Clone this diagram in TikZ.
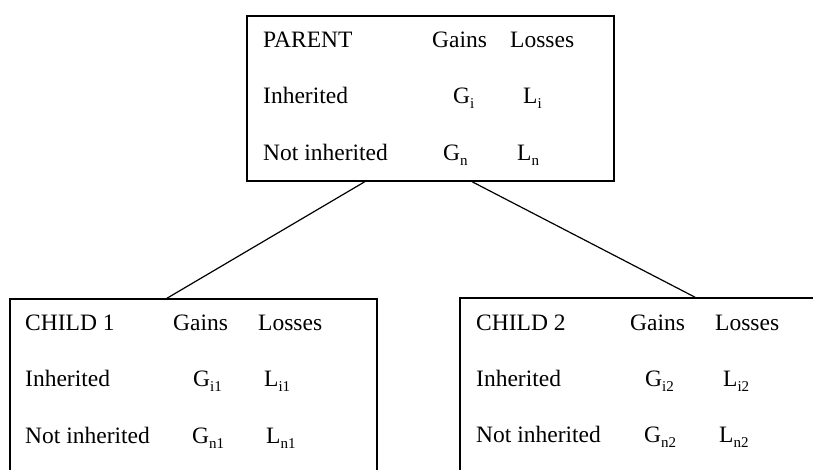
\documentclass[tikz,border=0pt]{standalone}
\usepackage{fontspec}
\setmainfont{Liberation Serif}
\usetikzlibrary{calc}
\newcommand\sbs[1]{\raisebox{-0.25em}{\fontsize{15}{15}\selectfont #1}}
\begin{document}
\begin{tikzpicture}[x=1pt,y=1pt,
  box/.style={draw,line width=1.5pt,rectangle,minimum width=367pt,inner sep=0pt},
  lbl/.style={anchor=base west,inner sep=0pt,font=\fontsize{23.5}{23.5}\selectfont},
  conn/.style={line width=1.2pt}]
\useasboundingbox (0,0) rectangle (813,-469);
\clip (0,0) rectangle (813,-469);
\node[box,minimum height=165pt] (parent) at (430.5,-98.5) {};
\node[box,minimum height=200pt] (child1) at (193.5,-399) {};
\node[box,minimum height=200pt] (child2) at (643.5,-398) {};
% parent text
\node[lbl] (pt1) at (263,-47) {PARENT};
\node[lbl] (pt2) at (432,-47) {Gains};
\node[lbl] (pt3) at (510,-47) {Losses};
\node[lbl] (pt4) at (263,-103) {Inherited};
\node[lbl] (pt5) at (453,-103) {G\sbs{i}};
\node[lbl] (pt6) at (523,-103) {L\sbs{i}};
\node[lbl] (pt7) at (263,-160) {Not inherited};
\node[lbl] (pt8) at (443,-160) {G\sbs{n}};
\node[lbl] (pt9) at (517,-160) {L\sbs{n}};
% child 1 text
\node[lbl] (ca1) at (25,-330) {CHILD 1};
\node[lbl] (ca2) at (173,-330) {Gains};
\node[lbl] (ca3) at (258,-330) {Losses};
\node[lbl] (ca4) at (25,-386) {Inherited};
\node[lbl] (ca5) at (193,-386) {G\sbs{i1}};
\node[lbl] (ca6) at (264,-386) {L\sbs{i1}};
\node[lbl] (ca7) at (25,-443) {Not inherited};
\node[lbl] (ca8) at (192,-443) {G\sbs{n1}};
\node[lbl] (ca9) at (266,-443) {L\sbs{n1}};
% child 2 text
\node[lbl] (cb1) at (476,-330) {CHILD 2};
\node[lbl] (cb2) at (630,-330) {Gains};
\node[lbl] (cb3) at (715,-330) {Losses};
\node[lbl] (cb4) at (476,-386) {Inherited};
\node[lbl] (cb5) at (645,-386) {G\sbs{i2}};
\node[lbl] (cb6) at (723,-386) {L\sbs{i2}};
\node[lbl] (cb7) at (476,-442) {Not inherited};
\node[lbl] (cb8) at (644,-442) {G\sbs{n2}};
\node[lbl] (cb9) at (719,-442) {L\sbs{n2}};
% connectors
\draw[conn] ($(parent.south west)!0.3215!(parent.south east)$) -- ($(child1.north west)!0.428!(child1.north east)$);
\draw[conn] ($(parent.south west)!0.613!(parent.south east)$) -- ($(child2.north west)!0.640!(child2.north east)$);
\end{tikzpicture}
\end{document}
